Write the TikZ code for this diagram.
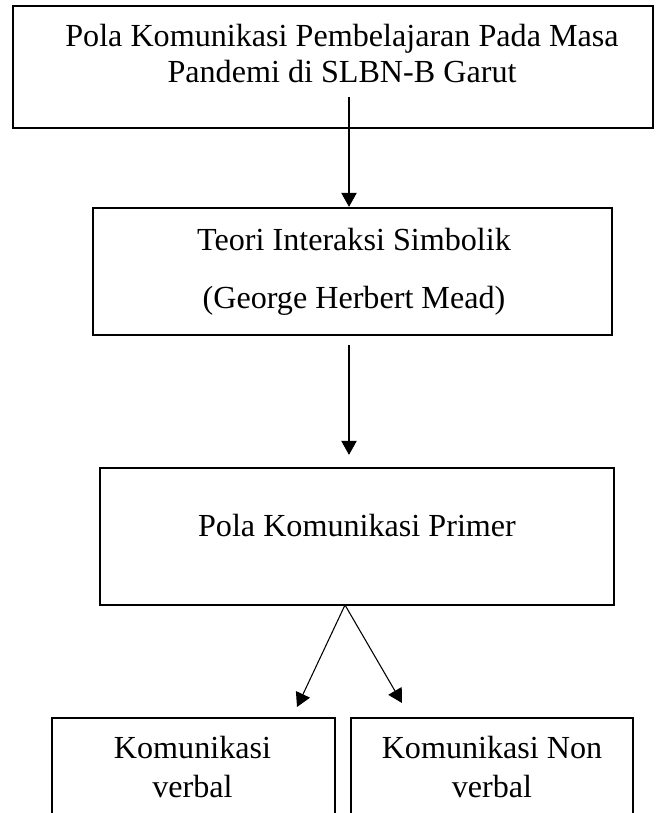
\documentclass[tikz,border=0pt]{standalone}
\usepackage{fontspec}
\setmainfont{Liberation Serif}
\usetikzlibrary{arrows.meta}

\begin{document}
\begin{tikzpicture}[x=0.75pt, y=-0.75pt,
    box/.style={draw, line width=1.7pt, inner sep=0pt},
    txt/.style={anchor=base, inner sep=0pt, font=\fontsize{24.1}{29}\selectfont},
    arr/.style={line width=0.8pt, -{Triangle[width=11.5pt, length=10.5pt]}}]
        \useasboundingbox (0,0) rectangle (658,813);
        \clip (0,0) rectangle (658,813);

        \node[box, minimum width=480pt, minimum height=91.5pt] (b1) at (333,67) {};
        \node[txt] (t1a) at (342,47) {Pola Komunikasi Pembelajaran Pada Masa};
        \node[txt] (t1b) at (342,83) {Pandemi di SLBN-B Garut};

        \node[box, minimum width=389.25pt, minimum height=95.25pt] (b2) at (352.5,271.5) {};
        \node[txt] (t2a) at (354,250) {Teori Interaksi Simbolik};
        \node[txt] (t2b) at (354,308) {(George Herbert Mead)};

        \node[box, minimum width=385.5pt, minimum height=102.75pt] (b3) at (357,536.5) {};
        \node[txt] (t3) at (357,536) {Pola Komunikasi Primer};

        \node[box, minimum width=212.25pt, minimum height=106.5pt] (b4) at (193.5,789) {};
        \node[txt] (t4a) at (192.5,758) {Komunikasi};
        \node[txt] (t4b) at (192.5,797) {verbal};

        \node[box, minimum width=211.5pt, minimum height=106.5pt] (b5) at (492,789) {};
        \node[txt] (t5a) at (492,758) {Komunikasi Non};
        \node[txt] (t5b) at (492,797) {verbal};

        \coordinate (s1) at (349,97);
        \coordinate (f3) at (345,605);
        \coordinate (e4) at (297,707);
        \coordinate (e5) at (402,703);

        \draw[arr] (s1) -- (s1 |- b2.north);
        \draw[arr, shorten <=6.75pt, shorten >=9pt] (s1 |- b2.south) -- (s1 |- b3.north);
        \draw[arr] (f3) -- (e4);
        \draw[arr] (f3) -- (e5);

    \end{tikzpicture}
\end{document}
